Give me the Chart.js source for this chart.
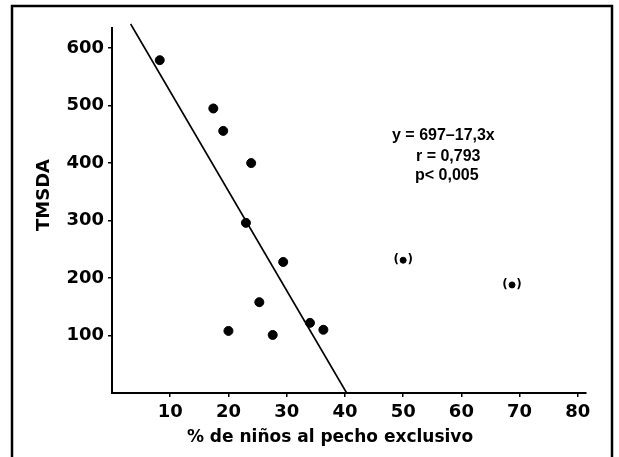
<!DOCTYPE html>
<html>
<head>
<meta charset="utf-8">
<script src="https://cdn.jsdelivr.net/npm/chart.js@4.4.1/dist/chart.umd.min.js"></script>
<style>
    body { margin: 0; background: #fff; }
    #chart { display: block; }
</style>
</head>
<body>
<canvas id="chart" width="619" height="457"></canvas>
<script>

// values
const xPct = [8.2, 17.4, 19.1, 23.9, 23.0, 29.4, 25.3, 20.0, 27.6, 34.0, 36.3];
const yTmsda = [579, 495, 456, 400, 296, 228, 158, 108, 101, 122, 110];

// points shown in brackets (excluded)
const xExcluded = [50.0, 68.7];
const yExcluded = [231, 188];

// regression line y = 697 - 17,3x, ends
const xFit = [3.2, 40.3];
const yFit = [642, 0];

const xTicks = [10, 20, 30, 40, 50, 60, 70, 80];
const yTicks = [100, 200, 300, 400, 500, 600];

const statsLines = ["y = 697–17,3x", "r = 0,793", "p< 0,005"];
const xTitle = "% de niños al pecho exclusivo";
const yTitle = "TMSDA";

const tickFont = { family: "DejaVu Sans", size: 18, weight: 'bold' };

function toPoints(xs, ys) {
    return xs.map((x, i) => ({ x: x, y: ys[i] }));
}

const extrasPlugin = {
    id: 'extras',
    afterDatasetsDraw(chart) {
        const ctx = chart.ctx;
        const meta = chart.getDatasetMeta(2);
        ctx.save();
        ctx.fillStyle = '#000';
        ctx.font = "bold 12px 'DejaVu Sans'";
        ctx.textAlign = 'center';
        ctx.textBaseline = 'middle';
        meta.data.forEach(el => {
            ctx.fillText('(', el.x - 7, el.y);
            ctx.fillText(')', el.x + 7, el.y);
        });
        ctx.restore();
    },
    afterDraw(chart) {
        const ctx = chart.ctx;
        ctx.save();
        ctx.fillStyle = '#000';
        ctx.strokeStyle = '#000';

        // frame round the figure
        ctx.lineWidth = 2.5;
        ctx.beginPath();
        ctx.moveTo(12, 460);
        ctx.lineTo(12, 6);
        ctx.lineTo(612, 6);
        ctx.lineTo(612, 460);
        ctx.stroke();

        // axis titles
        ctx.font = "bold 17px 'DejaVu Sans'";
        ctx.textAlign = 'center';
        ctx.textBaseline = 'middle';
        ctx.fillText(xTitle, 330, 438);

        ctx.save();
        ctx.translate(44, 195);
        ctx.rotate(-Math.PI / 2);
        ctx.font = "bold 18px 'DejaVu Sans'";
        ctx.fillText(yTitle, 0, 0);
        ctx.restore();

        // regression stats
        ctx.font = "bold 16px 'Liberation Sans'";
        ctx.textAlign = 'left';
        ctx.textBaseline = 'alphabetic';
        ctx.fillText(statsLines[0], 392, 140);
        ctx.fillText(statsLines[1], 416, 161);
        ctx.fillText(statsLines[2], 415, 180);

        ctx.restore();
    }
};

new Chart(document.getElementById("chart"), {
    type: 'scatter',
    data: {
        datasets: [
            {
                label: 'TMSDA',
                data: toPoints(xPct, yTmsda),
                backgroundColor: '#000',
                borderColor: '#000',
                pointRadius: 4.5,
                pointHoverRadius: 4.5
            },
            {
                type: 'line',
                label: 'Recta',
                data: toPoints(xFit, yFit),
                borderColor: '#000',
                borderWidth: 1.6,
                pointRadius: 0,
                fill: false,
                clip: false
            },
            {
                label: 'Excluidos',
                data: toPoints(xExcluded, yExcluded),
                backgroundColor: '#000',
                borderColor: '#000',
                pointRadius: 3,
                pointHoverRadius: 3
            }
        ]
    },
    options: {
        responsive: false,
        animation: false,
        layout: {
            padding: { top: 28, right: 33, bottom: 0, left: 0 }
        },
        plugins: {
            legend: { display: false },
            tooltip: { enabled: false }
        },
        scales: {
            x: {
                type: 'linear',
                min: 0,
                max: 81.4,
                afterBuildTicks: scale => {
                    scale.ticks = xTicks.map(v => ({ value: v }));
                },
                afterFit: scale => {
                    scale.height = 64;
                },
                border: { color: '#000', width: 2 },
                grid: {
                    drawOnChartArea: false,
                    drawTicks: true,
                    tickLength: 4,
                    color: '#000',
                    lineWidth: 1.5
                },
                ticks: {
                    color: '#000',
                    font: tickFont,
                    padding: 5,
                    maxRotation: 0
                }
            },
            y: {
                type: 'linear',
                min: 0,
                max: 635,
                afterBuildTicks: scale => {
                    scale.ticks = yTicks.map(v => ({ value: v }));
                },
                afterFit: scale => {
                    scale.width = 112;
                },
                border: { color: '#000', width: 2 },
                grid: {
                    drawOnChartArea: false,
                    drawTicks: true,
                    tickLength: 4,
                    color: '#000',
                    lineWidth: 1.5
                },
                ticks: {
                    color: '#000',
                    font: tickFont,
                    padding: 4
                }
            }
        }
    },
    plugins: [extrasPlugin]
});
</script>
</body>
</html>
